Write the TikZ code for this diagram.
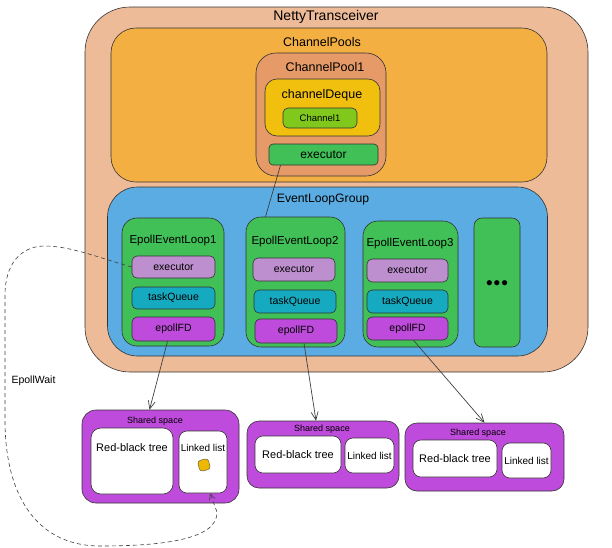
\documentclass[tikz,border=0pt]{standalone}
\usepackage{fontspec}
\setmainfont{Liberation Sans}
\usetikzlibrary{positioning,arrows.meta}
\definecolor{peach}{RGB}{238,187,152}
\definecolor{poolsorange}{RGB}{244,175,66}
\definecolor{poolbrown}{RGB}{230,154,104}
\definecolor{dequeyellow}{RGB}{241,192,15}
\definecolor{chgreen}{RGB}{128,200,28}
\definecolor{exgreen}{RGB}{64,192,87}
\definecolor{groupblue}{RGB}{90,172,226}
\definecolor{lavender}{RGB}{190,143,206}
\definecolor{teal}{RGB}{21,170,191}
\definecolor{magenta}{RGB}{190,75,219}
\definecolor{dotyellow}{RGB}{236,184,0}
\begin{document}
\begin{tikzpicture}[x=1pt,y=-1pt,
  box/.style={draw=black!80, line width=0.6pt, rounded corners=#1, inner sep=0pt},
  box/.default=5pt,
  ftbig/.style={font=\fontsize{14}{16}\selectfont},
  ftmid/.style={font=\fontsize{12.5}{14}\selectfont},
  ftsmall/.style={font=\fontsize{10.5}{12}\selectfont},
  fttiny/.style={font=\fontsize{9}{10}\selectfont},
  link/.style={draw=black!80, line width=0.6pt},
  ptr/.style={draw=black!75, line width=0.7pt, -{Straight Barb[length=8pt,width=7pt]}},
  wait/.style={draw=black!75, line width=0.6pt, dash pattern=on 4pt off 3pt, -{Straight Barb[length=6pt,width=6pt]}}]
\useasboundingbox (0,0) rectangle (612,547);
% transceiver and channel pools
\node[box=45pt, fill=peach, minimum width=503, minimum height=365] (netty) at (336.5,189.5) {};
\node[box=25pt, fill=poolsorange, minimum width=436, minimum height=154] (pools) at (329,105) {};
\node[box=20pt, fill=poolbrown, minimum width=130, minimum height=123] (pool1) at (321,114.5) {};
\node[box=12pt, fill=dequeyellow, minimum width=115, minimum height=57] (deque) at (322.5,107.5) {};
\node[box, fill=chgreen, minimum width=74, minimum height=20, font=\fontsize{9.5}{11}\selectfont] (chan1) at (320,118) {Channel1};
\node[box=4pt, fill=exgreen, minimum width=109, minimum height=21, font=\fontsize{12}{13}\selectfont] (pexec) at (323.5,154.5) {executor};
\node[ftbig] (nettyt) at (326,17) {NettyTransceiver};
\node[ftmid] (poolst) at (322,42) {ChannelPools};
\node[ftmid] (pool1t) at (325,67) {ChannelPool1};
\node[ftmid] (dequet) at (322,95) {channelDeque};
% event loops
\node[box=30pt, fill=groupblue, minimum width=440, minimum height=169] (group) at (327.5,271.5) {};
\node[font=\fontsize{12.2}{14}\selectfont] (groupt) at (323,199) {EventLoopGroup};
\node[box=15pt, fill=exgreen, minimum width=102, minimum height=128] (loop1) at (173,282) {};
\node[box=15pt, fill=exgreen, minimum width=99, minimum height=130] (loop2) at (295.5,282) {};
\node[box=15pt, fill=exgreen, minimum width=95, minimum height=126] (loop3) at (410.5,284) {};
\node[box=8pt, fill=exgreen, minimum width=46, minimum height=129] (more) at (497,282.5) {};
\node[font=\fontsize{19}{19}\selectfont] (dots) at (497,285) {\textbullet\hspace{1pt}\textbullet\hspace{1pt}\textbullet};
\node[font=\fontsize{11.5}{13}\selectfont] (loop1t) at (173,241) {EpollEventLoop1};
\node[font=\fontsize{11.5}{13}\selectfont] (loop2t) at (295,242) {EpollEventLoop2};
\node[font=\fontsize{11.5}{13}\selectfont] (loop3t) at (410,244) {EpollEventLoop3};
\node[box, ftsmall, fill=lavender, minimum width=83, minimum height=22] (exec1) at (173.5,267) {executor};
\node[box, ftsmall, fill=teal, minimum width=83, minimum height=22] (queue1) at (173.5,298) {taskQueue};
\node[box, ftsmall, fill=magenta, minimum width=83, minimum height=24] (fd1) at (173.5,329) {epollFD};
\node[box, ftsmall, fill=lavender, minimum width=82, minimum height=23] (exec2) at (294,269.5) {executor};
\node[box, ftsmall, fill=teal, minimum width=82, minimum height=23] (queue2) at (295,301.5) {taskQueue};
\node[box, ftsmall, fill=magenta, minimum width=82, minimum height=24] (fd2) at (296,331) {epollFD};
\node[box, ftsmall, fill=lavender, minimum width=81, minimum height=23] (exec3) at (407.5,270.5) {executor};
\node[box, ftsmall, fill=teal, minimum width=81, minimum height=23] (queue3) at (407.5,301.5) {taskQueue};
\node[box, ftsmall, fill=magenta, minimum width=81, minimum height=23] (fd3) at (407.5,328.5) {epollFD};
\draw[link] ([xshift=-43pt]pexec.south) -- ([xshift=-30pt]loop2.north);
% shared spaces
\node[box=14pt, fill=magenta, minimum width=157, minimum height=93] (sh1) at (160.5,456.5) {};
\node[box=10pt, fill=white, minimum width=82, minimum height=66] (rb1) at (132,461) {};
\node[box=8pt, fill=white, minimum width=48, minimum height=62] (ll1) at (203,462) {};
\node[fttiny] (sh1t) at (155,421) {Shared space};
\node[font=\fontsize{11}{12}\selectfont] (rb1t) at (132,448) {Red-black tree};
\node[font=\fontsize{10}{11}\selectfont] (ll1t) at (203,448) {Linked list};
\node[draw=black!70, fill=dotyellow, rounded corners=3pt, minimum size=11pt, inner sep=0pt, rotate=15] (item) at (204,465) {};
\node[box=12pt, fill=magenta, minimum width=152, minimum height=67] (sh2) at (323,454.5) {};
\node[box=8pt, fill=white, minimum width=86, minimum height=37, font=\fontsize{11}{12}\selectfont] (rb2) at (298,454.5) {Red-black tree};
\node[box=8pt, fill=white, minimum width=49, minimum height=35, font=\fontsize{10}{11}\selectfont] (ll2) at (369.5,455.5) {Linked list};
\node[fttiny] (sh2t) at (322,429) {Shared space};
\node[box=12pt, fill=magenta, minimum width=159, minimum height=68] (sh3) at (484.5,457) {};
\node[box=8pt, fill=white, minimum width=84, minimum height=37, font=\fontsize{11}{12}\selectfont] (rb3) at (455,458.5) {Red-black tree};
\node[box=8pt, fill=white, minimum width=49, minimum height=35, font=\fontsize{10}{11}\selectfont] (ll3) at (526.5,460.5) {Linked list};
\node[fttiny] (sh3t) at (478,433) {Shared space};
\draw[ptr] ([xshift=-6pt]fd1.south) -- ([xshift=-11pt]sh1.north);
\draw[ptr] ([xshift=8pt]fd2.south) -- ([xshift=-7pt]sh2.north);
\draw[ptr] ([xshift=6pt]fd3.south) -- ([xshift=0pt]sh3.north);
% epoll wait loop back
\draw[wait] (exec1.west) .. controls (100,258) and (70,246) .. (45,246)
  .. controls (20,246) and (5,265) .. (5,295) -- (5,420)
  .. controls (5,500) and (40,546) .. (100,546)
  .. controls (160,546) and (218,540) .. (217,512) -- ([xshift=7pt]ll1.south);
\node[font=\fontsize{10.5}{12}\selectfont, anchor=west] (waitt) at (8,381) {EpollWait};
\end{tikzpicture}
\end{document}
